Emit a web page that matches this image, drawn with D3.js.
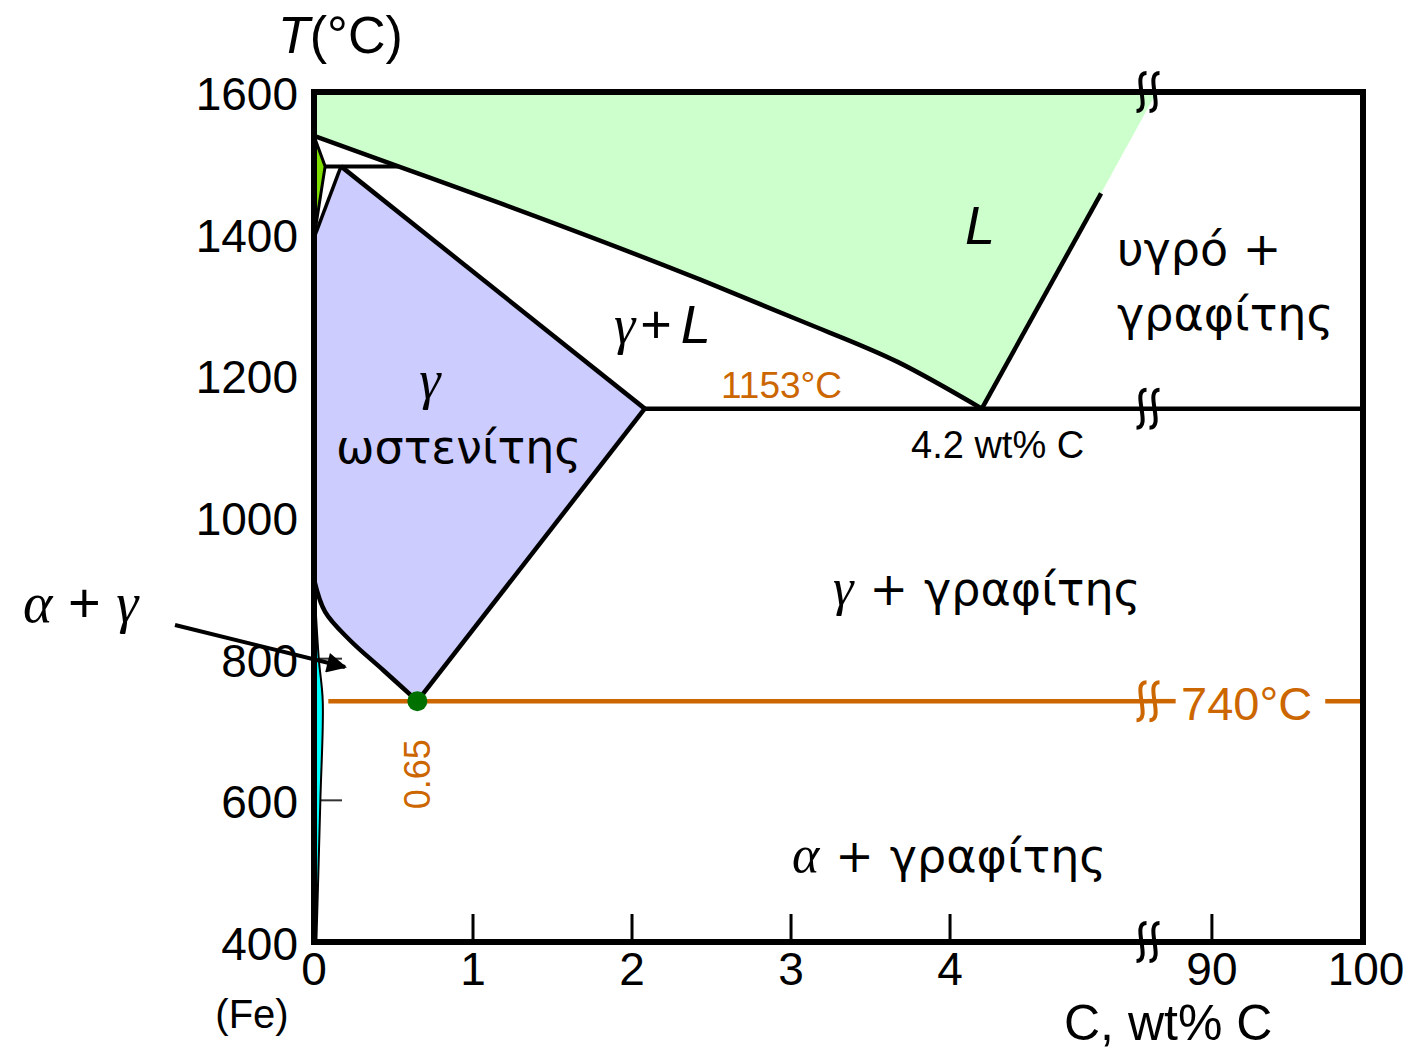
<!DOCTYPE html>
<html>
<head>
<meta charset="utf-8">
<title>fe_c_graphite_d3</title>
<script src="https://d3js.org/d3.v7.min.js"></script>
<style>
  body { margin: 0; background: #fff; }
  text { font-family: "Liberation Sans", Arial, sans-serif; fill: #000; }
  .gr { font-family: "Liberation Serif", "Times New Roman", serif; font-style: italic; }
  .it { font-style: italic; }
  .dv { font-family: "DejaVu Sans", Verdana, sans-serif; }
</style>
</head>
<body>
<script>
// phase boundaries, [wt% C, T in °C]
const liquidus = [[0, 1538], [0.53, 1495], [1.17, 1443], [2.43, 1335], [3.06, 1277], [3.67, 1219], [4.2, 1153]]
const graphiteLiquidus = [[4.2, 1153], [4.95, 1457]]
const solidus = [[0.17, 1495], [2.08, 1153]]
const acm = [[2.08, 1153], [0.65, 740]]
const a3 = [[0.65, 740], [0.434, 784], [0.226, 826], [0.07, 866], [0, 912]]
const deltaLine = [[0, 1538], [0.07, 1495], [0, 1394]]
const gammaDelta = [[0.17, 1495], [0, 1394]]
const peritectic = [[0.07, 1495], [0.53, 1495]]
const alphaLine = [[0, 912], [0.03, 800], [0.055, 740], [0.04, 600], [0.015, 400]]

const eutecticT = 1153, eutecticC = 4.2, eutecticGammaC = 2.08
const eutectoidT = 740, eutectoidC = 0.65, eutectoidStartC = 0.09
const eutectoidRight = [[85.77, 87.6], [97.5, 100]]
const liquidTopC = 5.3

const yTicks = [400, 600, 800, 1000, 1200, 1400, 1600]
const xTicksLeft = [0, 1, 2, 3, 4]
const xTicksRight = [90, 100]
const breakLeftC = 5.245, breakRightC = 85.77

const svg = d3.select('body').append('svg')
    .attr('width', 1426).attr('height', 1051)

let xL = d3.scaleLinear().domain([0, breakLeftC]).range([314, 1148])
let xR = d3.scaleLinear().domain([breakRightC, 100]).range([1148, 1363])
let y = d3.scaleLinear().domain([400, 1600]).range([942, 92])

let lin = d3.line().x(d => xL(d[0])).y(d => y(d[1]))
let crv = d3.line().x(d => xL(d[0])).y(d => y(d[1])).curve(d3.curveCatmullRom)
let mono = d3.line().x(d => xL(d[0])).y(d => y(d[1])).curve(d3.curveMonotoneX)

svg.append('clipPath').attr('id', 'plot')
    .append('rect').attr('x', xL(0)).attr('y', y(1600))
    .attr('width', xR(100) - xL(0)).attr('height', y(400) - y(1600))

// ticks (inside, under the fills)
svg.selectAll('.yt').data(yTicks).enter().append('line')
    .attr('x1', xL(0)).attr('x2', xL(0) + 28)
    .attr('y1', d => y(d)).attr('y2', d => y(d))
    .attr('stroke', '#333').attr('stroke-width', 2)
svg.selectAll('.xt').data(xTicksLeft.slice(1)).enter().append('line')
    .attr('x1', d => xL(d)).attr('x2', d => xL(d))
    .attr('y1', y(400)).attr('y2', y(400) - 28)
    .attr('stroke', '#000').attr('stroke-width', 3)
svg.selectAll('.xtr').data(xTicksRight.slice(0, 1)).enter().append('line')
    .attr('x1', d => xR(d)).attr('x2', d => xR(d))
    .attr('y1', y(400)).attr('y2', y(400) - 28)
    .attr('stroke', '#000').attr('stroke-width', 3)

let fills = svg.append('g').attr('clip-path', 'url(#plot)')

// liquid
fills.append('path')
    .attr('d', mono(liquidus) +
        lin([graphiteLiquidus[1], [liquidTopC, 1600], [0, 1600]]).replace(/^M/, 'L') + 'Z')
    .attr('fill', '#ccffcc')
// austenite
fills.append('path')
    .attr('d', lin([[0, 1394], solidus[0], solidus[1]]) + crv(a3).replace(/^M/, 'L') + 'Z')
    .attr('fill', '#ccccff')
// delta ferrite
fills.append('path').attr('d', lin(deltaLine) + 'Z').attr('fill', '#7fdf00')
// alpha ferrite
fills.append('path').attr('d', crv(alphaLine) + 'L' + xL(0) + ',' + y(400) + 'Z')
    .attr('fill', '#00ffff')

// phase boundaries
let lines = svg.append('g').attr('clip-path', 'url(#plot)')
    .attr('fill', 'none').attr('stroke', '#000').attr('stroke-width', 4.5)
    .attr('stroke-linejoin', 'round')
lines.append('path').attr('d', mono(liquidus))
lines.append('path').attr('d', lin(graphiteLiquidus))
lines.append('path').attr('d', lin(solidus))
lines.append('path').attr('d', lin(acm))
lines.append('path').attr('d', crv(a3))
lines.append('path').attr('d', lin(deltaLine)).attr('stroke-width', 3)
lines.append('path').attr('d', lin(gammaDelta)).attr('stroke-width', 3.5)
lines.append('path').attr('d', lin(peritectic)).attr('stroke-width', 4)
lines.append('path').attr('d', crv(alphaLine)).attr('stroke-width', 2)

// eutectic isotherm
lines.append('line')
    .attr('x1', xL(eutecticGammaC)).attr('x2', xR(100))
    .attr('y1', y(eutecticT)).attr('y2', y(eutecticT))

// eutectoid isotherm
let orange = '#cc6600'
let eut = svg.append('g').attr('stroke', orange).attr('stroke-width', 4.5)
eut.append('line')
    .attr('x1', xL(eutectoidStartC)).attr('x2', xL(breakLeftC))
    .attr('y1', y(eutectoidT)).attr('y2', y(eutectoidT))
eut.selectAll('.seg').data(eutectoidRight).enter().append('line')
    .attr('x1', d => xR(d[0])).attr('x2', d => xR(d[1]))
    .attr('y1', y(eutectoidT)).attr('y2', y(eutectoidT))

// frame
svg.append('rect')
    .attr('x', xL(0)).attr('y', y(1600))
    .attr('width', xR(100) - xL(0)).attr('height', y(400) - y(1600))
    .attr('fill', 'none').attr('stroke', '#000').attr('stroke-width', 6)

// axis break marks
function breakMark(cy, color) {
    let cx = xL(breakLeftC)
    for (let dx of [-6.5, 6.5]) {
        let x0 = cx + dx
        svg.append('path')
            .attr('d', `M${x0 + 5},${cy - 19} C${x0 - 11},${cy - 19} ${x0 + 11},${cy + 19} ${x0 - 5},${cy + 19}`)
            .attr('fill', 'none').attr('stroke', color).attr('stroke-width', 4)
    }
}
breakMark(y(1600), '#000')
breakMark(y(eutecticT), '#000')
breakMark(y(eutectoidT), orange)
breakMark(y(400), '#000')

// eutectoid point
svg.append('circle')
    .attr('cx', xL(eutectoidC)).attr('cy', y(eutectoidT))
    .attr('r', 10).attr('fill', '#007000')

// tick labels
svg.selectAll('.yl').data(yTicks).enter().append('text')
    .attr('x', 298).attr('y', d => y(d) + 18)
    .attr('text-anchor', 'end').attr('font-size', 46)
    .text(d => d)
svg.selectAll('.xl').data(xTicksLeft).enter().append('text')
    .attr('x', d => xL(d)).attr('y', 985)
    .attr('text-anchor', 'middle').attr('font-size', 46)
    .text(d => d)
svg.selectAll('.xr').data(xTicksRight).enter().append('text')
    .attr('x', d => xR(d) + (d === 100 ? 3 : 0)).attr('y', 985)
    .attr('text-anchor', 'middle').attr('font-size', 46)
    .text(d => d)

function label(x, yy, size, parts, anchor) {
    let t = svg.append('text').attr('x', x).attr('y', yy)
        .attr('font-size', size).attr('text-anchor', anchor || 'start')
    for (let p of parts) {
        let s = t.append('tspan').text(p[0])
        if (p[1]) s.attr('class', p[1])
        if (p[2]) s.style('fill', p[2])
        if (p[3]) s.attr('dx', p[3])
        if (p[4]) s.attr('font-size', p[4])
    }
    return t
}

// axis titles
label(278, 53, 52, [['T', 'it'], ['(°C)']])
label(1064, 1040, 50, [['C, wt% C']])
label(252, 1028, 40, [['(Fe)']], 'middle')

// region labels
label(965, 244, 54, [['L', 'it']])
label(1117, 265, 46, [['υγρό +', 'dv']])
label(1117, 330, 46, [['γραφίτης', 'dv']])
label(614, 343, 54, [['γ', 'gr'], ['+', null, null, 5], ['L', 'it', null, 9]])
label(430, 398, 54, [['γ', 'gr']], 'middle')
label(336, 463, 46, [['ωστενίτης', 'dv']])
label(833, 605, 52, [['γ', 'gr'], ['+', 'dv', null, 16, 46], ['γραφίτης', 'dv', null, 16, 46]])
label(792, 872, 52, [['α', 'gr'], ['+', 'dv', null, 16, 46], ['γραφίτης', 'dv', null, 16, 46]])
label(23, 622, 56, [['α', 'gr'], [' + '], ['γ', 'gr']])
label(721, 398, 37, [['1153°C', null, orange]])
label(911, 458, 38, [['4.2 wt% C']])
label(1181, 720, 47, [['740°C', null, orange]])

svg.append('text')
    .attr('transform', `translate(${xL(eutectoidC) + 13},${y(eutectoidT) + 73}) rotate(-90)`)
    .attr('text-anchor', 'middle').attr('font-size', 36)
    .style('fill', orange).text('0.65')

// arrow to the alpha + gamma field
svg.append('defs').append('marker')
    .attr('id', 'head').attr('viewBox', '0 0 10 10')
    .attr('refX', 9).attr('refY', 5)
    .attr('markerWidth', 6).attr('markerHeight', 5).attr('orient', 'auto')
    .append('path').attr('d', 'M0,0 L10,5 L0,10 Z').attr('fill', '#000')
svg.append('line')
    .attr('x1', 175).attr('y1', 625).attr('x2', 345).attr('y2', 667)
    .attr('stroke', '#000').attr('stroke-width', 4)
    .attr('marker-end', 'url(#head)')
</script>
</body>
</html>
